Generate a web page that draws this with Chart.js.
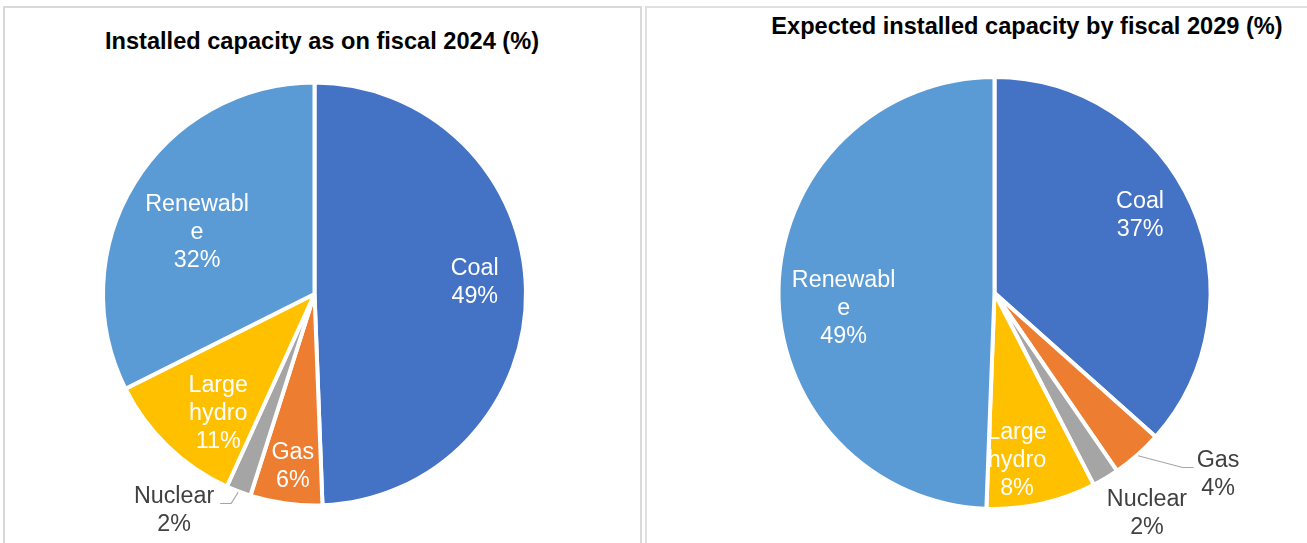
<!DOCTYPE html>
<html>
<head>
<meta charset="utf-8">
<script src="https://cdn.jsdelivr.net/npm/chart.js@4.4.1/dist/chart.umd.min.js"></script>
<style>
  html, body { margin: 0; padding: 0; background: #fff; overflow: hidden; }
  body { position: relative; width: 1307px; height: 543px; font-family: "Liberation Sans", Arial, sans-serif; }
  .panel { position: absolute; top: 6px; height: 600px; border: 2px solid #d9d9d9; border-bottom: none; box-sizing: border-box; }
  .title { position: absolute; font-weight: bold; font-size: 23.6px; line-height: 28px; color: #000; white-space: nowrap; text-align: center; }
  canvas { position: absolute; top: 0; }
</style>
</head>
<body>
<div class="panel" style="left:3px; width:639px;"></div>
<div class="panel" style="left:645px; width:700px; border-color:#e0e0e0;"></div>
<div class="title" style="left:22px; width:600px; top:27px;">Installed capacity as on fiscal 2024 (%)</div>
<div class="title" style="left:727px; width:600px; top:12px;">Expected installed capacity by fiscal 2029 (%)</div>
<canvas id="pie2024" width="629" height="588" style="left:0;width:629px;height:588px;"></canvas>
<canvas id="pie2029" width="629" height="586" style="left:680px;width:629px;height:586px;"></canvas>
<script>
const categories = ['Coal', 'Gas', 'Nuclear', 'Large hydro', 'Renewable'];
// shares; labels show them rounded
const share2024 = [49.4, 5.5, 1.9, 10.8, 32.4];
const share2029 = [36.6, 3.8, 2.0, 8.2, 49.4];
const sliceColors = ['#4472C4', '#ED7D31', '#A5A5A5', '#FFC000', '#5B9BD5'];

// where each data label sits: fraction of radius along the slice middle, plus nudges
const labels2024 = [
    {f: 0.765, dx: 0, dy: -8.5},
    {f: 0.84, dx: 2, dy: -1.5},
    {f: 1, dx: -65.2, dy: 21.5, outside: true, side: 'left'},
    {f: 0.69, dx: 4, dy: 15},
    {f: 0.67, dx: 2, dy: 12}
];
const labels2029 = [
    {f: 0.73, dx: 3, dy: -14},
    {f: 1, dx: 82, dy: 21.5, outside: true, side: 'right'},
    {f: 1, dx: 42.4, dy: 37.5, outside: true, noLeader: true},
    {f: 0.79, dx: -14.4, dy: 3},
    {f: 0.705, dx: 0, dy: 18}
];

const LABEL_FONT = '23.3px "Liberation Sans", Arial, sans-serif';
const LINE_H = 28;

function wrapText(ctx, text, maxW) {
    const lines = [];
    let cur = '';
    text.split(' ').forEach(word => {
        const test = cur ? cur + ' ' + word : word;
        if (ctx.measureText(test).width <= maxW) { cur = test; return; }
        if (cur) lines.push(cur);
        cur = '';
        // break long words by character like Excel does
        for (const ch of word) {
            if (ctx.measureText(cur + ch).width > maxW && cur) { lines.push(cur); cur = ch; }
            else cur += ch;
        }
    });
    if (cur) lines.push(cur);
    return lines;
}

const sliceLabels = {
    id: 'sliceLabels',
    afterDatasetsDraw(chart, args, opts) {
        const ctx = chart.ctx;
        const meta = chart.getDatasetMeta(0);
        const values = chart.data.datasets[0].data;
        ctx.save();
        ctx.textAlign = 'center';
        ctx.textBaseline = 'middle';
        meta.data.forEach((arc, i) => {
            // redraw the slice so that the previous label sits under it, as in Excel
            arc.draw(ctx);
            const p = arc.getProps(['x', 'y', 'startAngle', 'endAngle', 'outerRadius'], true);
            const mid = (p.startAngle + p.endAngle) / 2;
            const vis = p.outerRadius - 2;
            const L = opts.layout[i];
            const lx = p.x + Math.cos(mid) * vis * L.f + L.dx;
            const ly = p.y + Math.sin(mid) * vis * L.f + L.dy;
            ctx.font = LABEL_FONT;
            const lines = wrapText(ctx, chart.data.labels[i], 108);
            lines.push(Math.round(values[i]) + '%');
            const widest = Math.max(...lines.map(t => ctx.measureText(t).width));
            if (L.outside && !L.noLeader) {
                const sx = p.x + Math.cos(mid) * (vis + 3);
                const sy = p.y + Math.sin(mid) * (vis + 3);
                const ey = ly - 7.5;
                const ex = L.side === 'left' ? lx + widest / 2 + 6 : lx - widest / 2 - 3;
                const bx = L.side === 'left' ? ex + 11 : ex - 11;
                ctx.strokeStyle = '#A6A6A6';
                ctx.lineWidth = 1.2;
                ctx.beginPath();
                ctx.moveTo(sx, sy);
                ctx.lineTo(bx, ey);
                ctx.lineTo(ex, ey);
                ctx.stroke();
            }
            ctx.fillStyle = L.outside ? '#404040' : '#FFFFFF';
            const top = ly - (lines.length - 1) * LINE_H / 2;
            lines.forEach((t, k) => ctx.fillText(t, lx, top + k * LINE_H));
        });
        ctx.restore();
    }
};

function makePie(id, values, layout, radius) {
    return new Chart(document.getElementById(id), {
        type: 'pie',
        data: {
            labels: categories,
            datasets: [{
                data: values,
                backgroundColor: sliceColors,
                borderColor: '#FFFFFF',
                borderWidth: 4
            }]
        },
        options: {
            responsive: false,
            animation: false,
            radius: radius,
            layout: { padding: 0 },
            plugins: {
                legend: { display: false },
                tooltip: { enabled: false },
                sliceLabels: { layout: layout }
            }
        },
        plugins: [sliceLabels]
    });
}

makePie('pie2024', share2024, labels2024, 211.5);
makePie('pie2029', share2029, labels2029, 216);
</script>
</body>
</html>
